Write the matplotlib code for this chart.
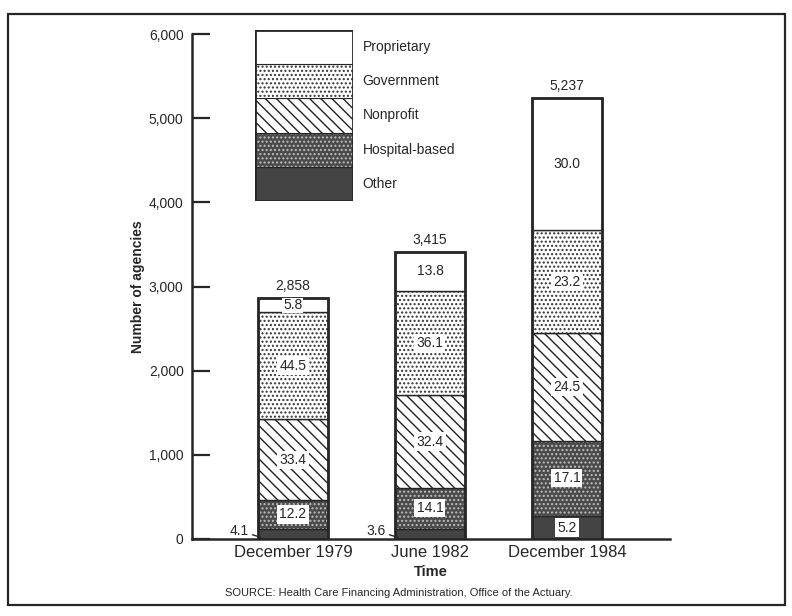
import matplotlib
matplotlib.use('Agg')
import matplotlib.pyplot as plt
import numpy as np

plt.rcParams['font.family'] = ['Liberation Sans', 'DejaVu Sans']
plt.rcParams['hatch.linewidth'] = 1.0

# data
periods = ['December 1979', 'June 1982', 'December 1984']
totals = [2858, 3415, 5237]
# bottom -> top
categories = ['Other', 'Hospital-based', 'Nonprofit', 'Government', 'Proprietary']
pct_other = [4.1, 3.6, 5.2]
pct_hospital = [12.2, 14.1, 17.1]
pct_nonprofit = [33.4, 32.4, 24.5]
pct_government = [44.5, 36.1, 23.2]
pct_proprietary = [5.8, 13.8, 30.0]
yticks = [0, 1000, 2000, 3000, 4000, 5000, 6000]

shares = [pct_other, pct_hospital, pct_nonprofit, pct_government, pct_proprietary]
# (facecolor, hatch, hatch colour)
styles = {
    'Other': ('#444444', '', '#444444'),
    'Hospital-based': ('#4a4a4a', '....', '#bdbdbd'),
    'Nonprofit': ('white', '\\\\\\', '#222222'),
    'Government': ('white', '....', '#333333'),
    'Proprietary': ('white', '', '#222222'),
}
ink = '#262626'

fig = plt.figure(figsize=(7.92, 6.16), dpi=100)
fig.patches.append(plt.Rectangle((0.0101, 0.0179), 0.9810, 0.9591, transform=fig.transFigure,
                                 fill=False, edgecolor=ink, linewidth=1.6))

ax = fig.add_axes([0.2424, 0.125, 0.6035, 0.8198])
x = np.arange(len(periods))
width = 0.51

bottom = np.zeros(len(periods))
for cat, pct in zip(categories, shares):
    h = np.array(totals) * np.array(pct) / 100.0
    fc, hatch, hc = styles[cat]
    ax.bar(x, h, width, bottom=bottom, color=fc, hatch=hatch, edgecolor=hc, linewidth=0)
    ax.bar(x, h, width, bottom=bottom, fill=False, edgecolor=ink, linewidth=1.0)
    for i in range(len(periods)):
        yc = bottom[i] + h[i] / 2
        if cat == 'Other' and h[i] < 200:
            ax.annotate(f'{pct[i]:.1f}', xy=(x[i] - width / 2 + 0.02, 20),
                        xytext=(x[i] - width / 2 - 0.07, 100), ha='right', va='center',
                        fontsize=10, color=ink,
                        arrowprops=dict(arrowstyle='-', color=ink, lw=1.0,
                                        shrinkA=1, shrinkB=0))
        else:
            pad = 0.6 if h[i] < 200 else 1.5
            ax.text(x[i], yc, f'{pct[i]:.1f}', ha='center', va='center', fontsize=10, color=ink,
                    bbox=dict(facecolor='white', edgecolor='none', pad=pad))
    bottom += h

ax.bar(x, totals, width, fill=False, edgecolor=ink, linewidth=2.0)
for i, t in enumerate(totals):
    ax.text(x[i], t + 60, f'{t:,}', ha='center', va='bottom', fontsize=10, color=ink)

ax.set_xlim(-0.737, 2.752)
ax.set_ylim(0, 6000)
ax.set_yticks(yticks)
ax.set_yticklabels([f'{v:,}' for v in yticks], fontsize=10, color=ink)
ax.tick_params(axis='y', direction='in', length=13, width=1.6, color=ink, pad=6)
ax.set_xticks(x)
ax.set_xticklabels(periods, fontsize=12, color=ink)
ax.tick_params(axis='x', length=0, pad=4)
for s in ['top', 'right']:
    ax.spines[s].set_visible(False)
for s in ['left', 'bottom']:
    ax.spines[s].set_linewidth(1.8)
    ax.spines[s].set_color(ink)
ax.set_xlabel('Time', fontsize=10.5, fontweight='bold', color=ink, labelpad=4)
ax.set_ylabel('Number of agencies', fontsize=10, fontweight='bold', color=ink, labelpad=3)

# legend drawn as a small stacked column
lax = fig.add_axes([0.322, 0.6737, 0.1237, 0.2776])
n = len(categories)
for k, cat in enumerate(categories):
    fc, hatch, hc = styles[cat]
    lax.bar(0, 1, 1, bottom=k, color=fc, hatch=hatch, edgecolor=hc, linewidth=0)
    lax.bar(0, 1, 1, bottom=k, fill=False, edgecolor=ink, linewidth=0.8)
    fig.text(0.458, 0.6737 + 0.2776 * (k + 0.5) / n, cat, ha='left', va='center',
             fontsize=10, color=ink)
lax.bar(0, n, 1, fill=False, edgecolor=ink, linewidth=2.0)
lax.set_xlim(-0.5, 0.5)
lax.set_ylim(0, n)
lax.axis('off')

fig.text(0.503, 0.037, 'SOURCE: Health Care Financing Administration, Office of the Actuary.',
         ha='center', va='center', fontsize=8, color=ink)

fig.savefig('out.png', dpi=100)
